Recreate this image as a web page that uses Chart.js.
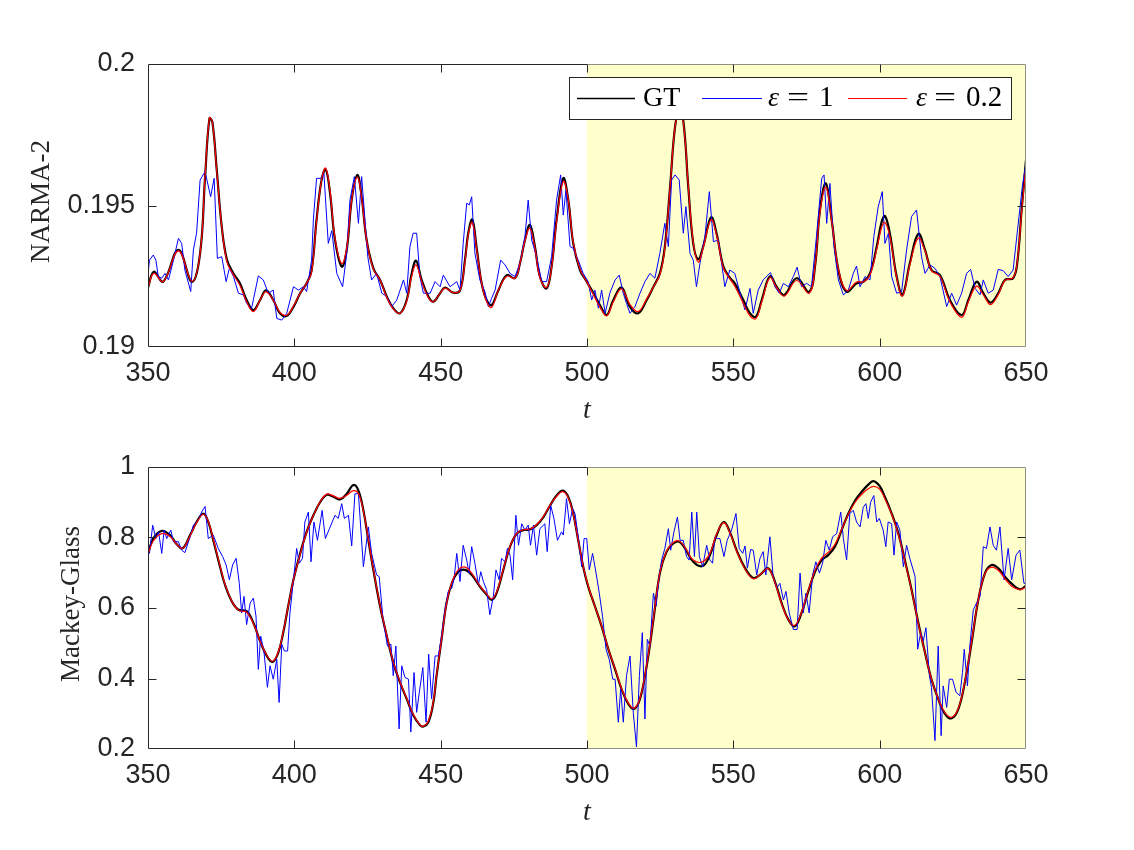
<!DOCTYPE html>
<html><head><meta charset="utf-8">
<script src="https://cdn.jsdelivr.net/npm/chart.js@4.4.0/dist/chart.umd.min.js"></script>
<style>
html,body{margin:0;padding:0;background:#fff;}
#wrap{position:relative;width:1134px;height:850px;background:#fff;}
canvas{position:absolute;left:0;}
#c1{top:0;}
#c2{top:425px;}
</style></head><body>
<div id="wrap"><canvas id="c1" width="1134" height="425"></canvas><canvas id="c2" width="1134" height="425"></canvas></div>
<script>
// ---------- tick labels ----------
const xTickValues = [350, 400, 450, 500, 550, 600, 650];
const xTickLabels = ['350', '400', '450', '500', '550', '600', '650'];
const narmaYTickValues = [0.19, 0.195, 0.2];
const narmaYTickLabels = ['0.19', '0.195', '0.2'];
const mgYTickValues = [0.2, 0.4, 0.6, 0.8, 1];
const mgYTickLabels = ['0.2', '0.4', '0.6', '0.8', '1'];
const shadeStart = 500, shadeEnd = 650;
const seriesNames = ['GT', 'ε = 1', 'ε = 0.2'];

// ---------- NARMA-2 ----------
const narmaT = [350,352,355.2,360.4,365,367.8,369.5,371,372,373.5,
375.2,377,379.2,381.4,383.7,386,388.3,390.3,392.8,395.1,
397.4,399.7,402,404.2,405.9,407.6,409.3,410.7,412.2,413.9,
416.2,417.9,419.6,421.5,423,424.7,427,429.3,431.6,433.8,
436.1,438.4,440.1,441.6,443.5,445.8,447.5,449.8,451.5,454.3,
456.6,458.3,459.4,460.8,462.3,464,465.7,467.4,469.7,472.6,
475.4,477.1,478.8,480.5,482.2,483.9,486.2,487.9,489.6,491.9,
493.6,495.3,497.6,499.9,502.2,504.4,506.7,509,511.8,514.7,
517.5,520.4,522.7,524.9,526.6,528.4,530.1,531.5,532.9,534.6,
536.3,538,539.7,542.4,544.3,546.6,548.9,550.5,553.4,555.7,
557.7,559.7,562.5,564.8,567.4,571.6,575.9,577.9,579.6,581.6,
583.6,585.9,588.7,592.1,594.4,596.7,599,600.7,601.8,603.5,
605.8,607.8,610.3,613.2,615.5,617.7,620.6,624,628,630.3,
633.1,635.4,637.9,640.5,642.8,645.6,647,648.5,650];
const narmaGT = [0.19210,0.19266,0.19231,0.19343,0.19230,0.19331,0.19600,0.19808,0.19795,0.19625,
0.19425,0.19307,0.19260,0.19225,0.19166,0.19130,0.19166,0.19200,0.19166,0.19119,
0.19110,0.19142,0.19190,0.19225,0.19270,0.19450,0.19590,0.19628,0.19543,0.19378,
0.19284,0.19343,0.19520,0.19608,0.19530,0.19378,0.19278,0.19237,0.19178,0.19137,
0.19119,0.19166,0.19260,0.19305,0.19237,0.19178,0.19160,0.19190,0.19210,0.19192,
0.19200,0.19307,0.19400,0.19450,0.19350,0.19225,0.19166,0.19148,0.19200,0.19254,
0.19243,0.19296,0.19378,0.19431,0.19355,0.19249,0.19207,0.19284,0.19449,0.19596,
0.19520,0.19366,0.19272,0.19231,0.19190,0.19148,0.19113,0.19166,0.19210,0.19142,
0.19119,0.19166,0.19213,0.19260,0.19355,0.19567,0.19780,0.19830,0.19800,0.19567,
0.19366,0.19310,0.19355,0.19458,0.19400,0.19284,0.19243,0.19225,0.19166,0.19119,
0.19107,0.19166,0.19250,0.19213,0.19184,0.19243,0.19195,0.19284,0.19484,0.19578,
0.19449,0.19272,0.19195,0.19225,0.19230,0.19260,0.19355,0.19443,0.19463,0.19400,
0.19249,0.19184,0.19296,0.19400,0.19343,0.19272,0.19254,0.19166,0.19113,0.19166,
0.19231,0.19190,0.19157,0.19190,0.19237,0.19243,0.19296,0.19484,0.19660];
const narmaEps02 = [0.19210,0.19260,0.19231,0.19340,0.19232,0.19331,0.19605,0.19810,0.19795,0.19620,
0.19425,0.19300,0.19255,0.19218,0.19160,0.19125,0.19166,0.19195,0.19166,0.19122,
0.19112,0.19145,0.19190,0.19225,0.19265,0.19445,0.19590,0.19632,0.19550,0.19385,
0.19295,0.19350,0.19520,0.19600,0.19525,0.19378,0.19275,0.19237,0.19175,0.19135,
0.19119,0.19162,0.19250,0.19290,0.19232,0.19175,0.19160,0.19190,0.19208,0.19192,
0.19200,0.19300,0.19395,0.19440,0.19345,0.19225,0.19160,0.19140,0.19200,0.19250,
0.19243,0.19296,0.19375,0.19420,0.19350,0.19245,0.19210,0.19280,0.19440,0.19585,
0.19520,0.19370,0.19275,0.19231,0.19185,0.19142,0.19110,0.19160,0.19205,0.19150,
0.19125,0.19170,0.19213,0.19255,0.19350,0.19565,0.19780,0.19820,0.19795,0.19570,
0.19370,0.19300,0.19350,0.19450,0.19395,0.19280,0.19240,0.19215,0.19155,0.19110,
0.19100,0.19160,0.19245,0.19210,0.19180,0.19235,0.19190,0.19284,0.19475,0.19565,
0.19445,0.19275,0.19200,0.19230,0.19230,0.19255,0.19345,0.19425,0.19440,0.19390,
0.19245,0.19180,0.19290,0.19385,0.19340,0.19270,0.19250,0.19160,0.19105,0.19160,
0.19215,0.19185,0.19150,0.19185,0.19235,0.19245,0.19300,0.19475,0.19640];
const narmaEps1T = [350,350.5,351.8,352.7,353.5,354.7,355.8,357,358.7,360.4,
361.5,362.6,364.6,365.5,366.6,367.8,369.5,371.4,372.6,373.7,
375.2,376.7,377.8,379.2,380.9,382.6,383.7,385.4,387.7,389.4,
391.1,392.8,394,395.7,397.4,399.7,401.4,403.1,404.2,405.9,
406.5,407.6,409,410.1,411.6,412.8,414.5,416.5,417.9,419,
420.5,421.9,423,425.1,426.4,428.1,429.9,431.6,433.3,435,
437.3,438.4,439.5,440.6,441.8,442.9,444.1,446.4,448.1,449.8,
450.9,453.2,455.5,456.6,457.7,458.9,459.8,460.6,461.7,463.4,
465.1,466.3,467.4,468.6,470.5,472,473.7,475.4,477.1,478.8,
479.9,481.1,482.8,484.5,486.2,487.9,489.6,491,491.9,492.8,
494.2,495.3,497,498.7,500.4,501.6,502.7,503.9,505,506.2,
507.8,509.6,511,512.4,513.5,514.7,516.4,518.1,519.8,521.5,
523.2,524.9,526.6,527.8,528.9,530.1,531.5,532.9,533.8,535.2,
536.3,537.4,538.6,540.3,541.8,543.2,544.9,547.1,548.8,550.5,
552.3,554,555.7,556.8,558.5,560.2,562.7,564.2,565.7,567.1,
568.8,570.5,571.8,573.3,575,576.7,578.4,580.2,581,581.9,
583,584.4,585.9,587.6,589.3,591,592.1,593.3,595,596.7,
598,599.5,600.9,601.8,603,604.1,605.8,607.5,609.2,610.9,
612.6,614.3,615.5,617.2,618.9,620.6,622.9,624.6,626.3,628,
629.7,631.1,632.6,634.3,635.4,637.1,638.8,640.5,642.2,643.9,
645.6,647.1,648.8,650];
const narmaEps1 = [0.19255,0.19307,0.19325,0.19307,0.19249,0.19243,0.19260,0.19237,0.19307,0.19384,
0.19366,0.19272,0.19196,0.19343,0.19402,0.19590,0.19620,0.19531,0.19596,0.19313,
0.19319,0.19231,0.19278,0.19249,0.19190,0.19184,0.19154,0.19137,0.19251,0.19237,
0.19190,0.19201,0.19101,0.19095,0.19119,0.19213,0.19201,0.19213,0.19196,0.19307,
0.19449,0.19596,0.19596,0.19614,0.19366,0.19411,0.19260,0.19213,0.19331,0.19519,
0.19602,0.19437,0.19602,0.19319,0.19237,0.19260,0.19190,0.19178,0.19143,0.19166,
0.19237,0.19190,0.19355,0.19402,0.19402,0.19249,0.19190,0.19190,0.19231,0.19213,
0.19254,0.19213,0.19231,0.19201,0.19366,0.19508,0.19502,0.19531,0.19331,0.19237,
0.19196,0.19143,0.19172,0.19201,0.19307,0.19290,0.19260,0.19249,0.19296,0.19390,
0.19519,0.19378,0.19319,0.19231,0.19231,0.19319,0.19519,0.19608,0.19466,0.19555,
0.19355,0.19349,0.19307,0.19260,0.19231,0.19166,0.19201,0.19137,0.19201,0.19119,
0.19190,0.19237,0.19254,0.19190,0.19154,0.19119,0.19143,0.19190,0.19231,0.19260,
0.19243,0.19331,0.19437,0.19355,0.19590,0.19608,0.19590,0.19402,0.19496,0.19331,
0.19307,0.19213,0.19296,0.19390,0.19549,0.19372,0.19378,0.19213,0.19272,0.19260,
0.19190,0.19131,0.19207,0.19119,0.19201,0.19237,0.19263,0.19213,0.19190,0.19225,
0.19213,0.19249,0.19282,0.19213,0.19225,0.19213,0.19390,0.19596,0.19608,0.19437,
0.19578,0.19355,0.19237,0.19184,0.19201,0.19260,0.19286,0.19213,0.19249,0.19237,
0.19390,0.19496,0.19549,0.19366,0.19402,0.19249,0.19190,0.19196,0.19343,0.19461,
0.19484,0.19319,0.19260,0.19290,0.19278,0.19249,0.19143,0.19190,0.19148,0.19190,
0.19260,0.19274,0.19207,0.19184,0.19237,0.19190,0.19201,0.19274,0.19270,0.19249,
0.19272,0.19413,0.19572,0.19649];

// ---------- Mackey-Glass ----------
const mgT = [350,351.8,354.7,357.5,359.8,361.8,364.4,366.6,368.9,370.6,
372.3,374.6,376.3,378.6,380.9,383.7,386,388.3,390.6,392.6,
394.5,396.2,397.9,399.7,402,404.2,406.5,408.8,411.1,413.3,
415.6,417.9,420.2,421.9,423.6,425.3,427,429.3,431.6,433.8,
436.1,438.4,440.7,443,444.1,445.8,447.5,448.6,450.3,452,
453.8,456,458.3,460.6,463.4,465.7,467.4,469.1,471.4,473.7,
476,478.2,480.5,482.8,485.1,487.4,489.6,491.7,493.6,495.3,
497,498.7,500.4,502.7,505,507.3,509.6,511.8,514.1,516.1,
518.1,520.4,522.7,524.9,527.2,529.5,531.5,533.5,536.3,539.5,
542,544.3,546.7,548.8,551.1,554,556.8,559.1,561.9,564.2,
566.5,568.8,571,573.3,575.6,577.9,580.2,582.4,584.7,587,
589.3,591.6,593.8,596.1,597.8,599.9,601.8,604.1,606.4,608.6,
610.9,613.2,615.5,617.7,620,622.3,624.6,626.9,629.1,631.4,
633.7,636,638.2,640.5,642.8,645.1,647.9,650];
const mgGT = [0.755,0.797,0.819,0.807,0.781,0.769,0.807,0.844,0.868,0.844,
0.792,0.717,0.666,0.619,0.595,0.591,0.558,0.506,0.464,0.447,
0.473,0.530,0.605,0.680,0.755,0.816,0.863,0.900,0.921,0.916,
0.908,0.924,0.949,0.933,0.877,0.792,0.708,0.605,0.520,0.445,
0.389,0.342,0.295,0.267,0.264,0.276,0.332,0.408,0.511,0.614,
0.670,0.703,0.708,0.694,0.661,0.638,0.623,0.642,0.708,0.774,
0.811,0.821,0.823,0.835,0.858,0.891,0.919,0.933,0.915,0.868,
0.792,0.717,0.661,0.605,0.548,0.483,0.426,0.370,0.328,0.314,
0.342,0.436,0.567,0.699,0.760,0.783,0.788,0.769,0.731,0.719,
0.750,0.807,0.844,0.816,0.764,0.713,0.685,0.694,0.713,0.675,
0.614,0.567,0.548,0.586,0.647,0.703,0.736,0.750,0.774,0.821,
0.868,0.905,0.929,0.950,0.960,0.947,0.915,0.868,0.811,0.736,
0.652,0.558,0.473,0.398,0.342,0.300,0.287,0.314,0.389,0.501,
0.623,0.699,0.722,0.713,0.689,0.669,0.653,0.663];
const mgEps02 = [0.752,0.790,0.811,0.803,0.781,0.769,0.805,0.842,0.866,0.846,
0.795,0.720,0.668,0.620,0.594,0.588,0.556,0.506,0.466,0.449,
0.475,0.532,0.605,0.680,0.753,0.815,0.862,0.901,0.923,0.918,
0.911,0.920,0.933,0.925,0.875,0.795,0.710,0.607,0.522,0.447,
0.391,0.344,0.297,0.268,0.265,0.279,0.335,0.410,0.511,0.612,
0.672,0.708,0.716,0.699,0.663,0.640,0.626,0.645,0.710,0.775,
0.812,0.822,0.824,0.836,0.860,0.892,0.917,0.930,0.913,0.866,
0.792,0.719,0.663,0.605,0.549,0.484,0.428,0.372,0.330,0.316,
0.344,0.438,0.570,0.700,0.762,0.786,0.790,0.772,0.736,0.731,
0.755,0.810,0.842,0.814,0.762,0.710,0.683,0.694,0.712,0.672,
0.612,0.566,0.551,0.588,0.650,0.706,0.742,0.758,0.780,0.823,
0.866,0.900,0.922,0.938,0.945,0.938,0.910,0.866,0.808,0.734,
0.650,0.556,0.472,0.398,0.343,0.303,0.290,0.316,0.392,0.504,
0.624,0.698,0.716,0.707,0.683,0.662,0.652,0.660];
const mgEps1T = [350,350.5,351.6,352.7,353.6,354.7,355.5,356.4,357.8,358.7,
360.4,361.5,362.6,364.4,365.5,367.2,368.3,369.5,370.6,372.3,
374,375.5,376.7,377.8,378.9,380.1,381.2,382,382.8,383.7,
384.9,386,386.9,387.7,388.5,389.6,390.8,391.7,392.8,394,
394.8,395.7,396.6,397.7,398.5,399.7,400.8,401.7,402.8,403.6,
404.8,405.7,406.7,407.9,409.5,410.6,412,413.9,415,416.2,
417.1,418.5,419.6,420.7,421.9,423.6,425.3,426.4,428.1,429,
430.2,431.8,433,433.8,434.7,435.8,436.7,437.8,439,439.8,
440.9,441.8,442.7,443.9,445,445.9,446.9,448.1,449.2,450.3,
451.5,452.6,453.8,454.6,455.5,456.6,457.7,458.9,459.7,460.6,
461.7,462.9,463.7,464.6,465.7,466.8,468,468.9,470,470.8,
472,472.8,473.7,474.6,475.7,476.6,477.7,478.8,479.9,480.7,
481.7,482.8,483.9,485.6,486.4,487.6,488.7,489.9,491.3,491.9,
493,494,495.1,495.9,497,498.2,499,499.9,500.8,501.9,
503.1,504.2,505.3,506.5,507.6,508.8,509.6,510.7,511.5,512.4,
513.5,514.7,515.8,516.9,517.9,518.9,519.8,520.6,521.5,522.7,
523.6,524.7,525.5,526.6,527.8,528.6,529.7,530.9,531.8,532.9,
534,534.9,535.8,536.7,537.5,538.4,539.5,540.9,542,542.9,
543.7,544.5,545.4,546.8,547.9,549.4,550.9,552,553.2,554,
554.8,555.9,556.8,558,559.1,560.2,561.1,562.5,563.6,564.8,
565.9,567.1,568,569.1,570.5,571.8,572.8,573.9,574.8,575.9,
577.1,578.2,579.4,580.5,581.6,582.8,583.9,585.3,586.7,587.6,
588.7,589.8,591,592.1,593.3,594.4,595.3,596.1,596.9,598,
599,599.9,601.2,602.1,602.9,604.1,604.9,605.8,606.9,608.1,
609.2,610.3,612.1,613,614,614.9,615.8,617,617.7,618.9,
620,621,621.7,622.9,623.8,624.9,626.1,627.4,628.3,628.9,
630,630.8,632,633.1,634.3,635.4,636.5,637.7,638.8,639.9,
641.1,642.5,643.9,645.1,646.6,647.9,649.3,650];
const mgEps1 = [0.770,0.755,0.835,0.797,0.816,0.755,0.821,0.797,0.821,0.788,
0.788,0.764,0.757,0.802,0.835,0.849,0.872,0.888,0.797,0.807,
0.769,0.746,0.722,0.680,0.722,0.741,0.670,0.586,0.633,0.553,
0.614,0.628,0.577,0.426,0.520,0.478,0.375,0.436,0.398,0.454,
0.332,0.497,0.478,0.478,0.586,0.680,0.769,0.727,0.741,0.844,
0.872,0.731,0.844,0.792,0.877,0.797,0.825,0.863,0.854,0.896,
0.854,0.863,0.776,0.924,0.924,0.717,0.830,0.755,0.694,0.689,
0.577,0.492,0.497,0.408,0.492,0.257,0.436,0.403,0.398,0.248,
0.417,0.304,0.361,0.431,0.276,0.469,0.342,0.464,0.464,0.520,
0.595,0.647,0.656,0.685,0.755,0.675,0.778,0.736,0.699,0.774,
0.727,0.666,0.703,0.675,0.652,0.581,0.633,0.708,0.680,0.741,
0.731,0.769,0.750,0.680,0.863,0.778,0.839,0.821,0.835,0.778,
0.835,0.750,0.825,0.839,0.760,0.891,0.854,0.792,0.816,0.807,
0.910,0.839,0.882,0.868,0.802,0.717,0.797,0.797,0.708,0.755,
0.699,0.642,0.577,0.483,0.454,0.398,0.398,0.276,0.370,0.276,
0.408,0.464,0.304,0.206,0.408,0.530,0.285,0.511,0.492,0.642,
0.605,0.694,0.736,0.769,0.825,0.764,0.816,0.858,0.792,0.792,
0.746,0.736,0.872,0.746,0.872,0.746,0.717,0.778,0.736,0.727,
0.802,0.797,0.797,0.746,0.792,0.821,0.868,0.769,0.755,0.776,
0.713,0.766,0.764,0.694,0.741,0.760,0.694,0.802,0.689,0.656,
0.670,0.623,0.647,0.586,0.539,0.539,0.699,0.586,0.642,0.586,
0.694,0.731,0.699,0.727,0.792,0.764,0.802,0.811,0.872,0.797,
0.736,0.868,0.877,0.844,0.830,0.886,0.896,0.854,0.900,0.919,
0.844,0.854,0.821,0.774,0.844,0.839,0.750,0.844,0.821,0.717,
0.778,0.741,0.689,0.483,0.530,0.506,0.544,0.408,0.375,0.224,
0.492,0.238,0.379,0.318,0.398,0.398,0.361,0.351,0.417,0.483,
0.379,0.492,0.595,0.614,0.633,0.774,0.769,0.830,0.778,0.764,
0.830,0.680,0.769,0.680,0.750,0.764,0.670,0.670];

// ---------- helpers ----------
function pts(ts, vs) {
  const n = Math.min(ts.length, vs.length);
  const out = [];
  for (let i = 0; i < n; i++) out.push({ x: ts[i], y: vs[i] });
  return out;
}
const AX = '#262626';
const SANS = '"Liberation Sans", Arial, Helvetica, sans-serif';
const SERIF = '"Liberation Serif", "Times New Roman", serif';

function decorPlugin(cfg) {
  return {
    id: 'decor_' + cfg.id,
    beforeDatasetsDraw(chart) {
      const { ctx, chartArea: a, scales: { x } } = chart;
      const x0 = x.getPixelForValue(shadeStart), x1 = x.getPixelForValue(shadeEnd);
      ctx.save();
      ctx.fillStyle = '#ffffcc';
      ctx.fillRect(x0, a.top, x1 - x0, a.bottom - a.top);
      ctx.restore();
    },
    afterDatasetsDraw(chart) {
      const { ctx, chartArea: a, scales: { x, y } } = chart;
      const xs = x.getPixelForValue(shadeStart);
      ctx.save();
      ctx.lineWidth = 1;
      const L = Math.round(a.left) + 0.5, R = Math.round(a.right) - 0.5;
      const T = Math.round(a.top) + 0.5, B = Math.round(a.bottom) - 0.5;
      const S = Math.round(xs) + 0.5;
      ctx.strokeStyle = AX;
      ctx.beginPath();
      ctx.moveTo(S, T); ctx.lineTo(L, T); ctx.lineTo(L, B); ctx.lineTo(S, B);
      ctx.stroke();
      ctx.strokeStyle = '#8f8f85';
      ctx.beginPath();
      ctx.moveTo(S, T); ctx.lineTo(R, T); ctx.lineTo(R, B); ctx.lineTo(S, B);
      ctx.stroke();
      const tl = 8;
      ctx.strokeStyle = AX;
      ctx.beginPath();
      x.ticks.forEach(t => {
        const px = Math.round(x.getPixelForValue(t.value)) + 0.5;
        if (px <= L + 1 || px >= R - 1) return;
        ctx.moveTo(px, B); ctx.lineTo(px, B - tl);
        ctx.moveTo(px, T); ctx.lineTo(px, T + tl);
      });
      y.ticks.forEach(t => {
        const py = Math.round(y.getPixelForValue(t.value)) + 0.5;
        if (py <= T + 1 || py >= B - 1) return;
        ctx.moveTo(L, py); ctx.lineTo(L + tl, py);
        ctx.moveTo(R, py); ctx.lineTo(R - tl, py);
      });
      ctx.stroke();
      ctx.restore();
    },
    afterDraw(chart) {
      const { ctx, chartArea: a } = chart;
      ctx.save();
      ctx.fillStyle = AX;
      ctx.font = 'italic 28px ' + SERIF;
      ctx.textAlign = 'center';
      ctx.textBaseline = 'alphabetic';
      ctx.fillText('t', (a.left + a.right) / 2, a.bottom + 71);
      ctx.font = '27px ' + SERIF;
      ctx.translate(cfg.yTitleX, (a.top + a.bottom) / 2 - 4);
      ctx.rotate(-Math.PI / 2);
      ctx.textBaseline = 'middle';
      ctx.fillText(cfg.yTitle, 0, 0);
      ctx.restore();
      if (cfg.legend) drawLegend(chart);
    }
  };
}

function drawLegend(chart) {
  const ctx = chart.ctx;
  const colors = chart.data.datasets.map(d => d.borderColor);
  const widths = chart.data.datasets.map(d => d.borderWidth);
  ctx.save();
  ctx.fillStyle = '#ffffff';
  ctx.fillRect(569.5, 77.5, 442, 42);
  ctx.strokeStyle = AX;
  ctx.lineWidth = 1;
  ctx.strokeRect(569.5, 77.5, 442, 42);
  const ly = 98.5, base = 106;
  const lines = [[577, 635], [702, 762], [848, 907]];
  lines.forEach((l, i) => {
    ctx.strokeStyle = colors[i];
    ctx.lineWidth = Math.min(widths[i], 1.6);
    ctx.beginPath(); ctx.moveTo(l[0], ly); ctx.lineTo(l[1], ly); ctx.stroke();
  });
  ctx.fillStyle = '#000';
  ctx.textBaseline = 'alphabetic';
  ctx.textAlign = 'left';
  ctx.font = '28px ' + SERIF;
  ctx.fillText(seriesNames[0], 643, base);
  const parts = [seriesNames[1].split(' = '), seriesNames[2].split(' = ')];
  const pos = [[768, 787, 819], [916, 934, 966]];
  parts.forEach((p, i) => {
    ctx.font = 'italic 28px ' + SERIF;
    ctx.fillText(p[0], pos[i][0], base);
    ctx.font = '28px ' + SERIF;
    ctx.save();
    ctx.translate(pos[i][1], base);
    ctx.scale(1.4, 1);
    ctx.fillText('=', 0, 0);
    ctx.restore();
    ctx.font = '29px ' + SERIF;
    ctx.fillText(p[1], pos[i][2], base);
  });
  ctx.restore();
}

function makePanel(canvasId, cfg) {
  const tickFont = { family: SANS, size: 27, lineHeight: 1.2 };
  return new Chart(document.getElementById(canvasId), {
    type: 'line',
    data: {
      datasets: [
        { label: seriesNames[0], data: pts(cfg.gtT, cfg.gt), borderColor: '#000000', borderWidth: 2.2, tension: 0.4, order: 3 },
        { label: seriesNames[1], data: pts(cfg.e1T, cfg.e1), borderColor: '#0000ff', borderWidth: 1, tension: 0, order: 2 },
        { label: seriesNames[2], data: pts(cfg.gtT, cfg.e02), borderColor: '#ff0000', borderWidth: 1.2, tension: 0.4, order: 1 }
      ]
    },
    options: {
      responsive: false,
      animation: false,
      devicePixelRatio: 1,
      parsing: false,
      normalized: true,
      layout: { padding: { left: 0, right: 108, top: cfg.padTop, bottom: 0 } },
      elements: { point: { radius: 0, hoverRadius: 0 }, line: { borderCapStyle: 'round', borderJoinStyle: 'round' } },
      plugins: { legend: { display: false }, tooltip: { enabled: false } },
      events: [],
      scales: {
        x: {
          type: 'linear', min: 350, max: 650,
          grid: { display: false, drawTicks: false },
          border: { display: false },
          afterFit: s => { s.height = cfg.xAxisH; },
          afterBuildTicks: s => { s.ticks = xTickValues.map(v => ({ value: v })); },
          ticks: { padding: 10, font: tickFont, color: AX, maxRotation: 0, autoSkip: false,
            callback: (v, i) => xTickLabels[i] }
        },
        y: {
          type: 'linear', min: cfg.yMin, max: cfg.yMax,
          grid: { display: false, drawTicks: false },
          border: { display: false },
          afterFit: s => { s.width = 148; },
          afterBuildTicks: s => { s.ticks = cfg.yTickValues.map(v => ({ value: v })); },
          ticks: { padding: 13, font: tickFont, color: AX, autoSkip: false,
            callback: (v, i) => cfg.yTickLabels[i] }
        }
      }
    },
    plugins: [decorPlugin(cfg)]
  });
}

makePanel('c1', {
  id: 'narma', padTop: 64, xAxisH: 78,
  yMin: 0.19, yMax: 0.2, yTickValues: narmaYTickValues, yTickLabels: narmaYTickLabels,
  yTitle: 'NARMA-2', yTitleX: 42, legend: true,
  gtT: narmaT, gt: narmaGT, e02: narmaEps02, e1T: narmaEps1T, e1: narmaEps1
});
makePanel('c2', {
  id: 'mg', padTop: 42, xAxisH: 101,
  yMin: 0.2, yMax: 1, yTickValues: mgYTickValues, yTickLabels: mgYTickLabels,
  yTitle: 'Mackey-Glass', yTitleX: 72, legend: false,
  gtT: mgT, gt: mgGT, e02: mgEps02, e1T: mgEps1T, e1: mgEps1
});
</script>
</body></html>
